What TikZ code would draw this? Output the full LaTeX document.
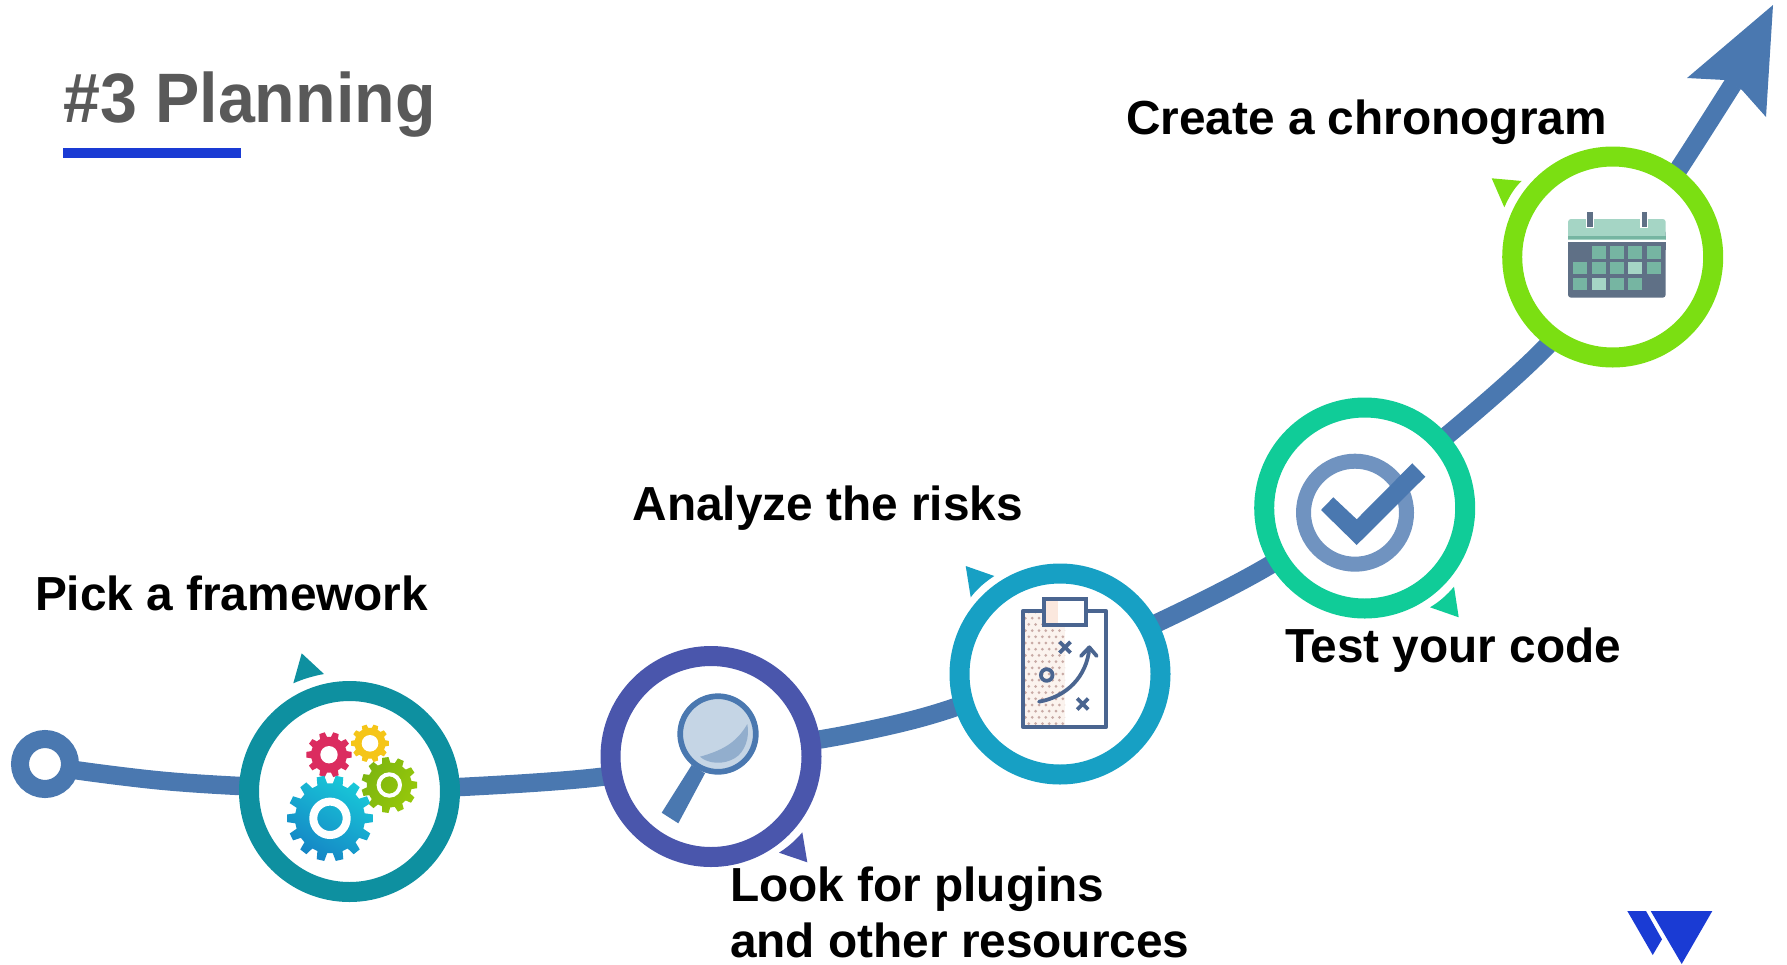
\documentclass[tikz,border=0pt]{standalone}
\usepackage{fontspec}
\setmainfont{Liberation Sans}
\definecolor{linec}{HTML}{4A78B0}
\definecolor{cA}{HTML}{0E90A0}
\definecolor{cB}{HTML}{4A56AC}
\definecolor{cC}{HTML}{17A0C4}
\definecolor{cD}{HTML}{10CC98}
\definecolor{cE}{HTML}{7BDF12}
\definecolor{titlec}{HTML}{595959}
\definecolor{brand}{HTML}{1A3BD4}
\definecolor{inkc}{HTML}{4A6590}
\definecolor{calD}{HTML}{5F7086}
\definecolor{calG}{HTML}{76B5A2}
\definecolor{calL}{HTML}{A5D5C5}
\tikzset{
  stepring/.style={circle,fill=white,draw=#1,line width=20pt,minimum size=201pt,inner sep=0pt,outer sep=0pt},
  label/.style={anchor=base west,inner sep=0pt,outer sep=0pt,font=\fontsize{47.8}{47.8}\selectfont\bfseries,text=black},
  pathline/.style={draw=linec,line width=18.5pt},
  ink/.style={draw=inkc,line width=3.8pt},
}
\newcommand{\cog}[6]{%
  \path[#6] ({#1+#4*cos(-0.32*360/#5)},{#2+#4*sin(-0.32*360/#5)})
  \foreach \i in {1,...,#5}{
    -- ({#1+#3*cos((\i-1-0.2)*360/#5)},{#2+#3*sin((\i-1-0.2)*360/#5)})
    -- ({#1+#3*cos((\i-1+0.2)*360/#5)},{#2+#3*sin((\i-1+0.2)*360/#5)})
    -- ({#1+#4*cos((\i-1+0.32)*360/#5)},{#2+#4*sin((\i-1+0.32)*360/#5)})
    -- ({#1+#4*cos((\i-0.32)*360/#5)},{#2+#4*sin((\i-0.32)*360/#5)})
  } -- cycle;}
\begin{document}
\begin{tikzpicture}[x=1pt,y=-1pt]
\useasboundingbox (0,0) rectangle (1787,964);
% --- path ---
\coordinate (p1) at (45,764);
\coordinate (p2) at (78,770.5);
\coordinate (p2b) at (160,780.5);
\coordinate (p3) at (240,786);
\coordinate (p4) at (349,790);
\coordinate (p5) at (460,787);
\coordinate (p6) at (600,777);
\coordinate (p7) at (711,757);
\coordinate (p8) at (850,734);
\coordinate (p9) at (950,709);
\coordinate (p10) at (1060,664);
\coordinate (p11) at (1157,623);
\coordinate (p12) at (1270,565);
\coordinate (p13) at (1365,499);
\coordinate (p14) at (1450,433);
\coordinate (p15) at (1543,350);
\coordinate (p16) at (1613,268);
\coordinate (p17) at (1680,167);
\coordinate (p18) at (1733,84);
\draw[pathline] plot[smooth,tension=0.55] coordinates {(p1)(p2)(p2b)(p3)(p4)(p5)(p6)(p7)(p8)(p9)(p10)(p11)(p12)(p13)(p14)(p15)(p16)(p17)(p18)};
\fill[linec] (1773,5) -- (1766,117) -- (1742,90) -- (1725,80) -- (1687,78) -- cycle;
\node[circle,fill=white,draw=linec,line width=18pt,minimum size=50pt,inner sep=0pt,outer sep=0pt] (start) at (p1) {};
% --- step circles ---
\node[stepring=cA] (c1) at (349.5,791.5) {};
\node[stepring=cB] (c2) at (711,756.5) {};
\node[stepring=cC] (c3) at (1060,674) {};
\node[stepring=cD] (c4) at (1364.7,508) {};
\node[stepring=cE] (c5) at (1612.7,257) {};
% --- small triangles ---
\fill[cA] (301.7,653.3) -- (324,674) .. controls (313,676) and (303,679) .. (293.3,683.3) -- cycle;
\fill[cB] (802.3,832.3) -- (807.3,862.3) -- (779,852.7) .. controls (788,847) and (796,840) .. cycle;
\fill[cC] (965.7,566) -- (994.3,576) .. controls (985,582) and (977,589) .. (970.7,597.3) -- cycle;
\fill[cD] (1454,586.7) -- (1458.7,617.3) -- (1430,607.3) .. controls (1439,602) and (1447,595) .. cycle;
\fill[cE] (1491.7,178.3) -- (1521.7,181) .. controls (1514,188) and (1509,197) .. (1504.3,207.3) -- cycle;
% --- gears ---
\cog{329}{754.7}{22.8}{18}{10}{fill={rgb,255:red,219;green,44;blue,95}}
\fill[white] (329,754.7) circle[radius=8.7pt];
\cog{370}{743.3}{19}{15.5}{10}{fill={rgb,255:red,245;green,197;blue,24}}
\fill[white] (370,743.3) circle[radius=8.3pt];
\cog{389.3}{785}{28}{22.5}{11}{top color={rgb,255:red,125;green,181;blue,16},bottom color={rgb,255:red,150;green,200;blue,10},shading angle=60}
\draw[white,line width=4pt] (389.3,785) circle[radius=10.7pt];
\cog{330}{818.3}{43}{35}{14}{top color={rgb,255:red,24;green,200;blue,216},bottom color={rgb,255:red,21;green,133;blue,197},shading angle=-30}
\draw[white,line width=8pt] (330,818.3) circle[radius=16.7pt];
% --- magnifier ---
\fill[linec] (691.7,765) -- (705,773.3) -- (678.3,823.3) -- (661.7,812.7) -- cycle;
\filldraw[fill={rgb,255:red,197;green,213;blue,229},draw=linec,line width=5.7pt] (718,734) circle[radius=37.8pt];
\fill[fill={rgb,255:red,146;green,174;blue,205}] (747.3,724) .. controls (736,744) and (720,751) .. (700,756.7) .. controls (708,764) and (724,765) .. (735,758) .. controls (745,752) and (750,737) .. cycle;
% --- clipboard ---
\fill[fill={rgb,255:red,251;green,243;blue,238}] (1023.3,610.7) rectangle (1065,727.3);
\begin{scope}
\clip (1025,612) rectangle (1065,726);
\foreach \r in {0,...,18}{
  \foreach \q in {0,...,7}{
    \fill[fill={rgb,255:red,200;green,170;blue,165}] ({1022+6.8*\q+3.4*mod(\r,2)},{612+6.2*\r}) circle[radius=1.5pt];
  }
}
\end{scope}
\draw[ink,line join=round] (1023.3,610.7) rectangle (1106,727.3);
\filldraw[ink,fill=white] (1044,599.3) rectangle (1086,625);
\fill[fill={rgb,255:red,251;green,232;blue,222}] (1046,601) rectangle (1058.3,623.2);
\draw[ink] (1059.5,641.8) -- (1070.5,652.8) (1059.5,652.8) -- (1070.5,641.8);
\draw[ink] (1077.2,698.5) -- (1088.2,709.5) (1077.2,709.5) -- (1088.2,698.5);
\draw[ink] (1046.7,675) circle[radius=5.8pt];
\draw[ink,line cap=round,line join=round] (1039,701.7) .. controls (1066.7,696.7) and (1086.7,676.7) .. (1089.3,648.3);
\draw[ink,line cap=round,line join=round] (1081,656) -- (1089.3,647.3) -- (1096.7,656);
% --- check icon ---
\draw[draw={rgb,255:red,112;green,147;blue,192},line width=15pt] (1355,512.7) circle[radius=51.5pt];
\fill[linec] (1321,510) -- (1333.3,497.3) -- (1356.7,519.3) -- (1412.3,463.3) -- (1425.3,476.7) -- (1356.7,545) -- cycle;
% --- calendar ---
\fill[calD,rounded corners=3pt] (1568,230) rectangle (1665.7,297.7);
\fill[calL,rounded corners=3pt] (1568,219) rectangle (1665.7,245);
\fill[calG] (1568,235.5) rectangle (1665.7,238.5);
\fill[white] (1568,239.5) rectangle (1665.7,242);
\fill[calD] (1568,242) rectangle (1665.7,250);
\filldraw[draw=white,fill=calD,line width=1.5pt] (1586.5,211) rectangle (1593.5,227.5);
\filldraw[draw=white,fill=calD,line width=1.5pt] (1641,211) rectangle (1647.5,227.5);
\foreach \x in {1592,1610,1628.3,1646.7}{\fill[calG] (\x,246) rectangle ++(14,12.5);}
\foreach \x in {1573.3,1592,1610,1646.7}{\fill[calG] (\x,261.7) rectangle ++(14,12.5);}
\fill[calL] (1628.3,261.7) rectangle ++(14,12.5);
\foreach \x in {1573.3,1610,1628.3}{\fill[calG] (\x,277.7) rectangle ++(14,12.5);}
\fill[calL] (1592,277.7) rectangle ++(14,12.5);
% --- title ---
\node[anchor=base west,inner sep=0pt,xscale=0.948,font=\fontsize{70}{70}\selectfont\bfseries,text=titlec] (title) at (63,122) {\#3 Planning};
\fill[brand] (63,148) rectangle (241,158);
% --- labels ---
\node[label] (l1) at (35,610) {Pick a framework};
\node[label] (l2) at (632.5,520) {Analyze the risks};
\node[label] (l3a) at (730,901) {Look for plugins};
\node[label] (l3b) at (730,957.5) {and other resources};
\node[label] (l4) at (1285,662) {Test your code};
\node[label] (l5) at (1126,134) {Create a chronogram};
% --- logo ---
\fill[brand] (1627.3,911) -- (1646,911) -- (1662,939.3) -- (1652.7,955) -- cycle;
\fill[brand] (1650.7,911) -- (1712.3,911) -- (1681.7,964) -- cycle;
\end{tikzpicture}
\end{document}
